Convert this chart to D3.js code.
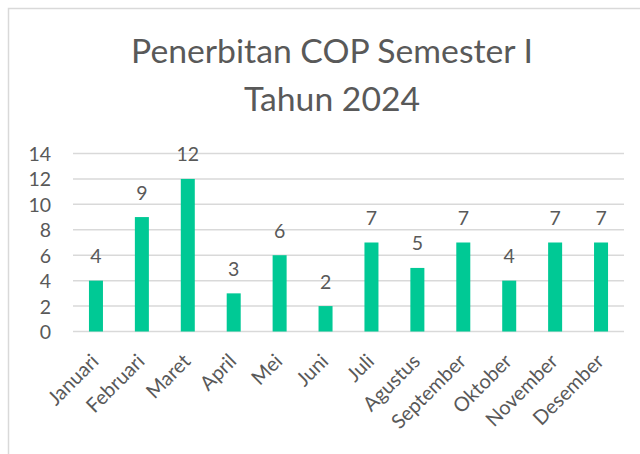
<!DOCTYPE html>
<html><head><meta charset="utf-8">
<script src="https://cdn.jsdelivr.net/npm/d3@7"></script>
<style>html,body{margin:0;padding:0;background:#fff;overflow:hidden}</style>
</head><body>
<svg id="c" width="640" height="454"></svg>
<script>
const titleLines = ["Penerbitan COP Semester I", "Tahun 2024"];
const months = ["Januari","Februari","Maret","April","Mei","Juni","Juli","Agustus","September","Oktober","November","Desember"];
const values = [4,9,12,3,6,2,7,5,7,4,7,7];
const yTicks = [0,2,4,6,8,10,12,14];

const svg = d3.select("#c");
const font = "Lato, 'Open Sans', sans-serif";
const textColor = "#595959";

// chart area border
svg.append("rect").attr("x",8.5).attr("y",8.5).attr("width",700).attr("height",600)
  .attr("fill","#fff").attr("stroke","#D9D9D9").attr("stroke-width",1.5);

const x = d3.scaleBand().domain(months).range([73,624]).paddingInner(0.695).paddingOuter(0.3475);
const y = d3.scaleLinear().domain([0,14]).range([331.5,153.5]);

// gridlines
svg.append("g").selectAll("line").data(yTicks).join("line")
  .attr("x1",73).attr("x2",624).attr("y1",d=>y(d)).attr("y2",d=>y(d))
  .attr("stroke","#D9D9D9").attr("stroke-width",1.5);

// y axis labels
const yAxis = d3.axisLeft(y).tickValues(yTicks).tickSize(0).tickPadding(0);
const gy = svg.append("g").attr("transform","translate(51,0)").call(yAxis);
gy.select(".domain").remove();
gy.selectAll("text").attr("font-family",font).attr("font-size",19.5).attr("fill",textColor).attr("dy","0.36em");

// bars
svg.append("g").selectAll("rect").data(values).join("rect")
  .attr("x",(d,i)=>x(months[i])).attr("width",x.bandwidth())
  .attr("y",d=>y(d)).attr("height",d=>y(0)-y(d))
  .attr("fill","#00C995");

// data labels
svg.append("g").selectAll("text").data(values).join("text")
  .attr("x",(d,i)=>x(months[i])+x.bandwidth()/2).attr("y",d=>y(d)-17.5)
  .attr("text-anchor","middle").attr("font-family",font).attr("font-size",19.5)
  .attr("fill",textColor).text(d=>d);

// x axis labels
const xAxis = d3.axisBottom(x).tickSize(0).tickPadding(0);
const gx = svg.append("g").attr("transform","translate(0,331.5)").call(xAxis);
gx.select(".domain").remove();
gx.selectAll(".tick text")
  .attr("font-family",font).attr("font-size",20).attr("fill",textColor)
  .attr("text-anchor","end").attr("dy",null).attr("y",null)
  .attr("transform","translate(4,31) rotate(-45)");

// title
const t = svg.append("g");
const t1 = t.append("text").attr("x",332).attr("y",63).attr("text-anchor","middle")
  .attr("font-family",font).attr("font-size",30).attr("fill",textColor).text(titleLines[0]);
const len = t1.node().getComputedTextLength();
const fs = 30*402/len;
t1.attr("font-size",fs);
t.append("text").attr("x",332).attr("y",110.5).attr("text-anchor","middle")
  .attr("font-family",font).attr("font-size",fs).attr("fill",textColor).text(titleLines[1]);
</script>
</body></html>
